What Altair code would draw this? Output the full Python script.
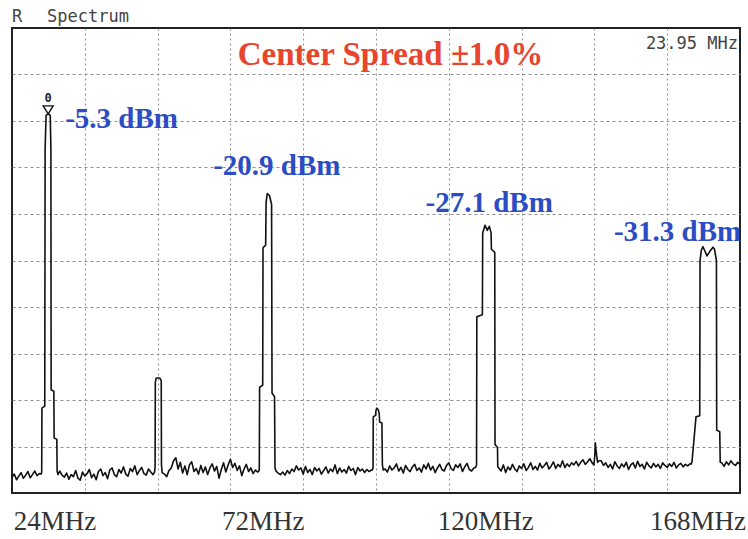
import altair as alt
import pandas as pd

# Analyzer display: 16-176 MHz span, 91 dB over ten divisions
F_START, F_STOP = 16.0, 176.0
REF_TOP, REF_BOTTOM = 11.5, -79.5
SWEEP_STEP = 0.5  # MHz between noise-floor samples

# Noise floor between emissions (dBm), one value per sweep step
floor_16 = [-76.4, -75.8, -76.9, -76.2, -75.5, -76.6, -76.0, -75.3, -76.5, -75.9,
            -75.2, -76.1, -75.7]
floor_26 = [-75.2, -76.0, -76.4, -75.6, -76.8, -75.9, -76.3, -75.1, -76.6, -77.0,
            -75.4, -76.2, -75.7, -74.9, -76.5, -75.8, -76.9, -75.3, -74.8, -76.1,
            -75.5, -76.7, -75.0, -74.6, -75.9, -76.3, -74.9, -75.6, -74.4, -75.8,
            -76.2, -74.7, -75.3, -74.2, -75.9, -75.1, -74.5, -75.7, -76.0, -74.8,
            -75.4, -75.9]
floor_49 = [-75.8, -76.3, -75.1, -74.6, -73.2, -72.6, -74.8, -73.5, -75.6, -74.2,
            -75.9, -74.0, -73.4, -75.3, -74.7, -75.8, -74.1, -75.5, -74.4, -75.9,
            -74.6, -73.8, -75.2, -74.3, -76.6, -74.9, -73.6, -75.4, -74.0, -72.9,
            -74.5, -73.7, -75.1, -74.2, -76.1, -74.8, -73.9, -75.3, -74.6, -75.7,
            -75.0, -75.4]
floor_74 = [-75.6, -75.9, -75.4, -76.0, -75.1, -75.7, -74.8, -75.3, -74.2, -75.0,
            -74.6, -75.8, -74.3, -75.5, -74.9, -75.9, -74.5, -75.2, -74.7, -75.8,
            -75.1, -74.4, -75.6, -74.8, -75.3, -74.0, -75.7, -74.6, -75.4, -74.9,
            -75.6, -74.3, -75.1, -74.7, -75.9, -74.5, -75.2, -74.8, -75.5, -74.9,
            -75.3, -75.0]
floor_98 = [-74.8, -75.4, -74.2, -75.0, -74.6, -73.8, -75.2, -74.5, -75.6, -74.1,
            -74.9, -75.3, -74.4, -73.9, -75.1, -74.6, -75.4, -74.0, -74.8, -73.7,
            -75.0, -74.3, -75.5, -74.6, -73.9, -74.9, -75.2, -74.1, -73.6, -74.7,
            -75.1, -74.0, -74.5, -73.8, -75.3, -74.4, -73.7, -74.9, -75.2, -74.6]
floor_123 = [-74.6, -75.2, -74.0, -75.5, -74.4, -75.0, -73.9, -74.8, -75.3, -74.2,
             -74.7, -73.8, -75.1, -74.5, -73.6, -74.9, -74.3, -75.0, -73.7, -74.6,
             -74.1, -73.5, -74.8, -74.2, -73.4, -74.7, -73.9, -74.4, -73.2, -74.5,
             -73.8, -74.3, -73.6, -74.0, -73.3, -74.2, -73.5, -73.0, -73.9, -73.4,
             -72.8, -73.6]
floor_145 = [-73.2, -74.1, -73.6, -74.5, -73.9, -74.8, -73.4, -74.2, -74.7, -73.8,
             -74.4, -73.5, -74.9, -74.0, -73.6, -74.6, -73.3, -74.3, -73.9, -74.8,
             -73.5, -74.2, -74.6, -73.7, -74.4, -73.9, -74.7, -73.6, -74.1, -74.5,
             -73.8, -74.3, -73.5, -74.6, -74.0, -73.7, -74.4, -73.9, -74.2, -73.8]
floor_172 = [-73.6, -74.3, -73.4, -74.0, -73.2, -73.8, -74.1, -73.5, -73.9]

floor_starts = [16.0, 26.5, 49.5, 74.5, 98.0, 123.0, 145.5, 172.0]
floor_runs = [floor_16, floor_26, floor_49, floor_74, floor_98, floor_123, floor_145, floor_172]

# Emission outlines: frequency (MHz) and level (dBm)
h1_freq = [22.4, 22.53, 22.58, 23.2, 23.28, 23.5, 23.95, 24.4, 24.55, 24.6, 25.2, 25.26, 25.85, 25.92, 26.1]
h1_level = [-75.8, -75.4, -62.9, -62.5, -12.0, -5.6, -5.3, -5.6, -12.0, -59.3, -59.6, -68.7, -69.0, -75.2, -75.9]

s48_freq = [47.3, 47.45, 47.5, 47.7, 48.5, 48.8, 48.85, 49.0]
s48_level = [-75.5, -74.5, -57.8, -57.0, -57.0, -57.5, -74.0, -75.5]

h3_freq = [70.2, 70.35, 70.42, 71.1, 71.17, 71.75, 71.85, 72.1, 72.6, 73.05, 73.15, 73.7, 73.8, 74.0]
h3_level = [-75.3, -74.9, -58.8, -58.4, -31.5, -31.0, -22.5, -20.9, -21.3, -23.0, -60.0, -60.6, -74.5, -75.2]

s96_freq = [95.2, 95.35, 95.4, 95.9, 96.0, 96.2, 96.5, 96.7, 96.8, 97.3, 97.4, 97.6]
s96_level = [-75.0, -74.5, -64.6, -64.3, -63.3, -62.9, -63.2, -64.0, -65.6, -65.8, -74.0, -75.0]

h5_freq = [117.9, 118.1, 118.16, 119.38, 119.45, 119.96, 120.46, 120.9, 121.3, 121.36, 122.1, 122.16, 122.7, 122.76]
h5_level = [-74.5, -74.0, -45.0, -44.6, -28.6, -27.1, -28.1, -27.3, -28.6, -31.8, -32.4, -70.0, -70.6, -74.4]

s144_freq = [143.9, 144.1, 144.2, 144.35, 144.5, 144.7, 145.0]
s144_level = [-74.0, -72.0, -69.7, -71.0, -72.2, -73.5, -73.2]

h7_freq = [165.3, 165.45, 166.33, 167.15, 167.22, 167.5, 167.87, 168.3, 168.75, 169.3,
           170.07, 170.4, 170.82, 170.88, 171.55, 171.65]
h7_level = [-73.8, -73.4, -64.6, -64.4, -34.0, -32.0, -31.3, -32.2, -33.1, -32.3,
            -31.4, -31.8, -34.0, -67.2, -67.5, -73.5]

# Marked harmonic peaks
peak_freqs = [23.95, 72.0, 120.0, 168.0]
peak_levels = [-5.3, -20.9, -27.1, -31.3]
tick_freqs = [24, 72, 120, 168]
title_text = "Center Spread \u00b11.0%"

# ---- assemble the sweep trace ----
points = []
for start, run in zip(floor_starts, floor_runs):
    points += [(start + i * SWEEP_STEP, v) for i, v in enumerate(run)]
for fs, ls in [(h1_freq, h1_level), (s48_freq, s48_level), (h3_freq, h3_level),
               (s96_freq, s96_level), (h5_freq, h5_level), (s144_freq, s144_level),
               (h7_freq, h7_level)]:
    points += list(zip(fs, ls))
points.sort()
trace_df = pd.DataFrame(points, columns=["freq", "level"])
trace_df["idx"] = range(len(trace_df))

peaks_df = pd.DataFrame({
    "freq": peak_freqs,
    "level": peak_levels,
    "label": [f"{v:.1f} dBm" for v in peak_levels],
})
marker_df = peaks_df.iloc[[0]].copy()
marker_df["readout"] = [f"{peak_freqs[0]:.2f} MHz"]

W, H = 728, 465
GRID = "#8f8f8f"
BLUE = "#2c4cc4"
RED = "#e8442e"
SERIF = "Liberation Serif"
MONO = "DejaVu Sans Mono"

x_scale = alt.Scale(domain=[F_START, F_STOP], nice=False, zero=False)
y_scale = alt.Scale(domain=[REF_BOTTOM, REF_TOP], nice=False, zero=False)
div_db = (REF_TOP - REF_BOTTOM) / 10
x_grid_vals = [F_START + 16 * i for i in range(1, 10)]
y_grid_vals = [round(REF_TOP - div_db * i, 3) for i in range(1, 10)]

trace = alt.Chart(trace_df).mark_line(
    color="#111111", strokeWidth=1.6, strokeJoin="round"
).encode(
    x=alt.X("freq:Q", scale=x_scale,
            axis=alt.Axis(values=x_grid_vals, grid=True, labels=False, ticks=False,
                          domain=False, gridColor=GRID, gridDash=[2, 3], gridWidth=1,
                          orient="bottom", title=None)),
    y=alt.Y("level:Q", scale=y_scale,
            axis=alt.Axis(values=y_grid_vals, grid=True, labels=False, ticks=False,
                          domain=False, gridColor=GRID, gridDash=[3, 3], gridWidth=1,
                          orient="left", title=None)),
    order="idx:Q",
)

# Marker triangle sitting on the fundamental, with the frequency axis labels
marker = alt.Chart(marker_df).mark_point(
    shape="M-1,-1.6L1,-1.6L0,0Z", size=100, filled=True, fill="white",
    stroke="#111111", strokeWidth=1.4, opacity=1
).encode(
    x=alt.X("freq:Q", scale=x_scale,
            axis=alt.Axis(values=tick_freqs, labelExpr="datum.value + 'MHz'", grid=False,
                          ticks=False, tickSize=0, domain=False, labelFont=SERIF,
                          labelFontSize=27, labelColor="#333333", labelPadding=15,
                          labelOffset={"expr": "datum.value == 24 ? 6 : datum.value == 72 ? -4 : datum.value == 168 ? -6 : 0"},
                          labelFlush=False, labelOverlap=False, orient="bottom", title=None)),
    y=alt.Y("level:Q", scale=y_scale, axis=None),
)

marker_num = alt.Chart(marker_df).mark_text(
    text="0", font=MONO, fontSize=12, fontWeight="bold", color="#222222",
    baseline="bottom", dy=-9
).encode(
    x=alt.X("freq:Q", scale=x_scale, axis=None),
    y=alt.Y("level:Q", scale=y_scale, axis=None),
)

readout = alt.Chart(marker_df).mark_text(
    font=MONO, fontSize=17, color="#444444", align="right", baseline="alphabetic"
).encode(x=alt.value(726), y=alt.value(21), text="readout:N")

label_layout = [("left", 17, 14), ("center", 10, -19), ("center", 4, -13), ("center", -26, -6)]
peak_labels = []
for i, (al, dx, dy) in enumerate(label_layout):
    peak_labels.append(
        alt.Chart(peaks_df.iloc[[i]]).mark_text(
            font=SERIF, fontWeight="bold", fontSize=29, color=BLUE,
            align=al, baseline="alphabetic", dx=dx, dy=dy
        ).encode(
            x=alt.X("freq:Q", scale=x_scale, axis=None),
            y=alt.Y("level:Q", scale=y_scale, axis=None),
            text="label:N",
        )
    )

hdr = pd.DataFrame({"r": ["R"], "s": ["Spectrum"], "t": [title_text]})
hdr_r = alt.Chart(hdr).mark_text(font=MONO, fontSize=17, color="#444444", align="left",
                                 baseline="alphabetic").encode(
    x=alt.value(0), y=alt.value(-6), text="r:N")
hdr_s = alt.Chart(hdr).mark_text(font=MONO, fontSize=17, color="#444444", align="left",
                                 baseline="alphabetic").encode(
    x=alt.value(35), y=alt.value(-6), text="s:N")
title = alt.Chart(hdr).mark_text(font=SERIF, fontSize=33, fontWeight="bold", color=RED,
                                 align="center", baseline="alphabetic").encode(
    x=alt.value(378.5), y=alt.value(37), text="t:N")

chart = alt.layer(
    trace, marker, marker_num, readout, *peak_labels, hdr_r, hdr_s, title
).resolve_axis(
    x="independent", y="independent"
).properties(
    width=W, height=H,
    padding={"left": 12, "top": 28, "right": 8, "bottom": 46},
    autosize=alt.AutoSizeParams(type="none"),
    background="white",
).configure_view(
    stroke="#222222", strokeWidth=2
)

chart.save("out.html", embed_options={"renderer": "svg", "actions": False})
